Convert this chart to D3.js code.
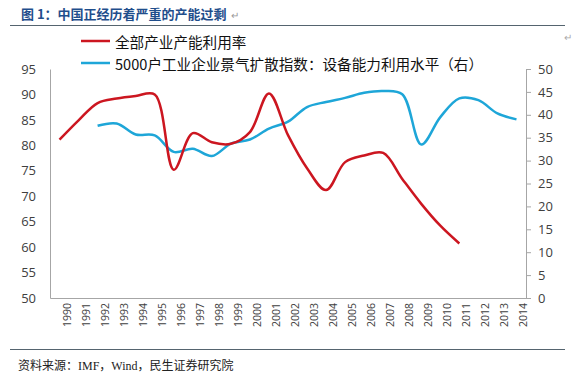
<!DOCTYPE html>
<html>
<head>
<meta charset="utf-8">
<script src="https://cdn.jsdelivr.net/npm/d3@7"></script>
<style>
  body { margin: 0; background: #fff; }
  svg { display: block; }
</style>
</head>
<body>
<svg id="chart" width="574" height="387"></svg>
<script>
// categories
const years = d3.range(1990, 2015).map(String);

// 全部产业产能利用率 (left axis), 1990-2011
const capacityUtil = [81.1, 84.9, 88.3, 89.2, 89.7, 90.0, 75.2, 82.4, 80.6, 80.3, 82.6, 90.2,
  82.0, 75.5, 71.2, 76.7, 78.0, 78.5, 73.4, 68.5, 64.2, 60.7];
// 5000户工业企业景气扩散指数：设备能力利用水平 (right axis), 1992-2014
const diffusionIdx = [37.6, 38.1, 35.7, 35.5, 31.9, 32.6, 31.0, 33.7, 34.6, 37.0, 38.5, 41.7,
  42.8, 43.7, 44.8, 45.2, 44.5, 33.5, 39.5, 43.6, 43.2, 40.3, 39.0];

const leftTicks = d3.range(50, 96, 5);
const rightTicks = d3.range(0, 51, 5);

const redSeries = capacityUtil.map((v, i) => ({ year: years[i], value: v }));
const blueSeries = diffusionIdx.map((v, i) => ({ year: years[i + 2], value: v }));

const svg = d3.select('#chart');
const plot = { left: 50, right: 526, top: 69, bottom: 298 };

const x = d3.scaleBand().domain(years).range([plot.left, plot.right]);
const cx = d => x(d) + x.bandwidth() / 2;
const yLeft = d3.scaleLinear().domain([50, 95]).range([plot.bottom, plot.top]);
const yRight = d3.scaleLinear().domain([0, 50]).range([plot.bottom, plot.top]);

const axisColor = '#a6a6a6';
const labelFont = '"Open Sans", "Liberation Sans", sans-serif';
const cjkFont = '"Noto Sans CJK SC", sans-serif';

// title
svg.append('text')
  .attr('x', 21).attr('y', 19)
  .attr('font-family', cjkFont)
  .attr('font-weight', 'bold')
  .attr('font-size', 13)
  .attr('fill', '#1f4e8c')
  .text('图 1：中国正经历着严重的产能过剩');
svg.append('text')
  .attr('x', 231).attr('y', 19)
  .attr('font-size', 10).attr('fill', '#999')
  .text('↵');

// frame lines
svg.append('line')
  .attr('x1', 10).attr('x2', 565).attr('y1', 25.5).attr('y2', 25.5)
  .attr('stroke', '#55646f').attr('stroke-width', 1.2);
svg.append('line')
  .attr('x1', 10).attr('x2', 565).attr('y1', 349.5).attr('y2', 349.5)
  .attr('stroke', '#55646f').attr('stroke-width', 1.2);
svg.append('text')
  .attr('x', 564).attr('y', 41)
  .attr('font-size', 10).attr('fill', '#aaa')
  .text('↵');

// source
svg.append('text')
  .attr('x', 18).attr('y', 370)
  .attr('font-family', '"Liberation Serif", "Noto Sans CJK SC", serif')
  .attr('font-size', 12)
  .attr('fill', '#222')
  .text('资料来源：IMF，Wind，民生证券研究院');

// left axis
const gl = svg.append('g').attr('transform', `translate(${plot.left},0)`)
  .call(d3.axisLeft(yLeft).tickValues(leftTicks).tickSize(0).tickPadding(14));
gl.select('.domain').attr('stroke', axisColor);
gl.selectAll('text').attr('font-family', labelFont).attr('font-size', 13).attr('fill', '#404040');

// right axis
const gr = svg.append('g').attr('transform', `translate(${plot.right},0)`)
  .call(d3.axisRight(yRight).tickValues(rightTicks).tickSize(5).tickPadding(7));
gr.select('.domain').attr('stroke', axisColor);
gr.selectAll('line').attr('stroke', axisColor);
gr.selectAll('text').attr('font-family', labelFont).attr('font-size', 13).attr('fill', '#404040');

// bottom axis
const gb = svg.append('g').attr('transform', `translate(0,${plot.bottom})`)
  .call(d3.axisBottom(x).tickSize(0).tickSizeOuter(0));
gb.select('.domain').attr('stroke', axisColor);
gb.selectAll('text')
  .attr('font-family', labelFont)
  .attr('font-size', 10.5)
  .attr('fill', '#404040')
  .attr('text-anchor', 'end')
  .attr('dy', null)
  .attr('dominant-baseline', 'central')
  .attr('transform', 'translate(7,5) rotate(-90)')
  .attr('y', 0);

// lines
const curve = d3.curveCatmullRom.alpha(0.5);
const redLine = d3.line().x(d => cx(d.year)).y(d => yLeft(d.value)).curve(curve);
const blueLine = d3.line().x(d => cx(d.year)).y(d => yRight(d.value)).curve(curve);

svg.append('path').datum(blueSeries)
  .attr('fill', 'none').attr('stroke', '#1ea6d8').attr('stroke-width', 2.5)
  .attr('d', blueLine);
svg.append('path').datum(redSeries)
  .attr('fill', 'none').attr('stroke', '#cc1620').attr('stroke-width', 2.5)
  .attr('d', redLine);

// legend
const legend = [
  { label: '全部产业产能利用率', color: '#cc1620', y: 41 },
  { label: '5000户工业企业景气扩散指数：设备能力利用水平（右）', color: '#1ea6d8', y: 63 }
];
legend.forEach(l => {
  svg.append('line')
    .attr('x1', 81).attr('x2', 110).attr('y1', l.y).attr('y2', l.y)
    .attr('stroke', l.color).attr('stroke-width', 2.5);
  svg.append('text')
    .attr('x', 115).attr('y', l.y)
    .attr('dominant-baseline', 'central')
    .attr('font-family', cjkFont)
    .attr('font-size', 14.6)
    .attr('fill', '#111')
    .text(l.label);
});
</script>
</body>
</html>
